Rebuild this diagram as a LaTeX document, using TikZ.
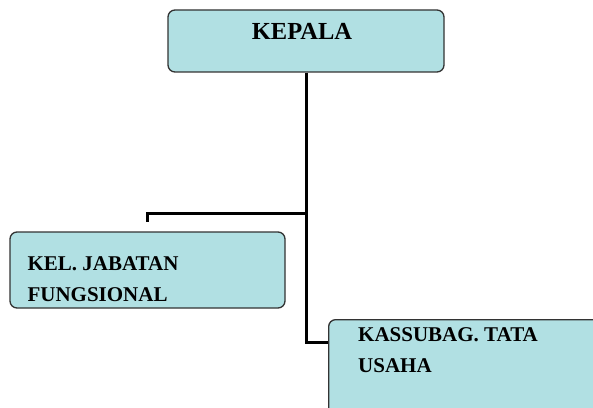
\documentclass[tikz,border=0pt]{standalone}
\usepackage{fontspec}
\setmainfont{Liberation Serif}
\usetikzlibrary{positioning}
\definecolor{boxfill}{HTML}{B1E0E3}
\definecolor{boxline}{HTML}{333333}
\tikzset{
  unit/.style={draw=boxline, line width=1.3pt, fill=boxfill, rounded corners=7pt,
    minimum width=276pt, inner sep=0pt},
  lbl/.style={inner sep=0pt, align=left, font=\fontsize{21}{31.5}\selectfont\bfseries},
  link/.style={line width=3pt}
}
\begin{document}
\begin{tikzpicture}
                \useasboundingbox (0,0) rectangle (593pt,407pt);

                \node [unit, minimum height=62pt] (kepala) at (306pt,366pt) {};
                \node [unit, minimum height=76pt, minimum width=275pt] (jabatan) at (147.5pt,137pt) {};
                \node [unit, minimum height=96pt, anchor=north west] (tu) at (328pt,88pt) {};

                \node [lbl, font=\fontsize{24.5}{28}\selectfont\bfseries, below=13.5pt of kepala.north, xshift=-4pt] (kepalatxt) {KEPALA};
                \node [lbl, anchor=north west] (jabatantxt) at ([xshift=18pt, yshift=-25pt]jabatan.north west) {KEL. JABATAN\\FUNGSIONAL};
                \node [lbl, anchor=north west] (tutxt) at ([xshift=30pt, yshift=-8pt]tu.north west) {KASSUBAG. TATA\\USAHA};

                \coordinate [below=141pt of kepala.south] (fork);
                \coordinate [below=270pt of kepala.south] (bend);

                \draw [link] (kepala.south) -- (bend) -- (bend -| tu.west);
                \draw [link] (fork) -| ([yshift=9pt]jabatan.north);
\end{tikzpicture}
\end{document}
